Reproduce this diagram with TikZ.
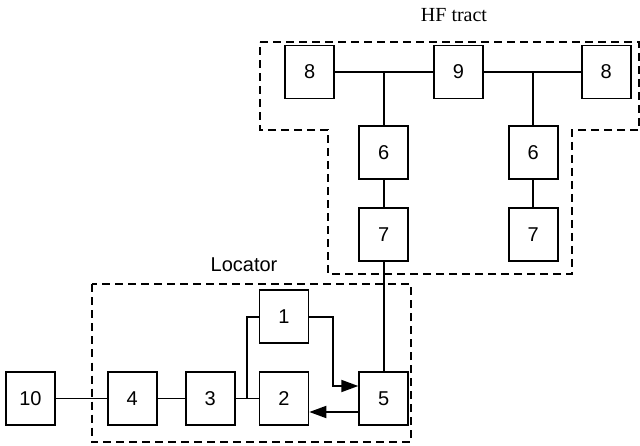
\documentclass[tikz,border=0pt]{standalone}
\usepackage{fontspec}
\setmainfont{Liberation Sans}
\newfontfamily\hffont{Liberation Serif}
\usetikzlibrary{positioning, arrows.meta, calc}

\begin{document}
\begin{tikzpicture}[x=1pt, y=-1pt, line width=1.8pt,
    box/.style={draw, minimum width=49pt, minimum height=53pt, inner sep=0pt, font=\fontsize{20}{24}\selectfont},
    frame/.style={dashed, dash pattern=on 8pt off 5pt, line width=2pt},
    >={Triangle[length=17pt, width=12pt]}]
    \useasboundingbox (0,0) rectangle (640,446);
    % locator chain
    \node[box] (b10) at (30.5,398.5) {10};
    \node[box] (b4) [right=51pt of b10] {4};
    \node[box] (b3) [right=27pt of b4] {3};
    \node[box] (b2) [right=23pt of b3] {2};
    \node[box] (b5) [right=49pt of b2] {5};
    \node[box] (b1) [above=27pt of b2] {1};
    % HF tract
    \node[box] (b7a) [above=109pt of b5] {7};
    \node[box] (b6a) [above=27pt of b7a] {6};
    \node[box] (b8a) [above=26pt of b6a, xshift=-74pt] {8};
    \node[box] (b9) [right=98pt of b8a] {9};
    \node[box] (b8b) [right=97pt of b9] {8};
    \node[box] (b6b) [below=26pt of b8b, xshift=-73pt] {6};
    \node[box] (b7b) [below=27pt of b6b] {7};
    \coordinate (bus) at ($(b3.east)!0.5!(b2.west)$);
    \draw (b10) -- (b4);
    \draw (b4) -- (b3);
    \draw (b3) -- (b2);
    \draw (bus) |- (b1);
    \draw[->] (b1.east) -- ++(24,0) |- ([yshift=12.5pt]b5.west);
    \draw[->] ([yshift=-13.5pt]b5.west) -- ([yshift=-13.5pt]b2.east);
    \draw (b5) -- (b7a);
    \draw (b7a) -- (b6a);
    \draw (b7b) -- (b6b);
    \draw (b8a) -- (b9);
    \draw (b9) -- (b8b);
    \draw (b6a) -- (b6a |- b9);
    \draw (b6b) -- (b6b |- b9);
    % dashed groups
    \draw[frame] (91.5,284.5) rectangle (411,442);
    \draw[frame] (260,42) -- (639,42) -- (639,130) -- (572,130) -- (572,274)
        -- (328,274) -- (328,130) -- (260,130) -- cycle;
    \node (hf) at (454,15) {\hffont\fontsize{20}{24}\selectfont HF tract};
    \node (loc) at (244,265) {\fontsize{20}{24}\selectfont Locator};
\end{tikzpicture}
\end{document}
